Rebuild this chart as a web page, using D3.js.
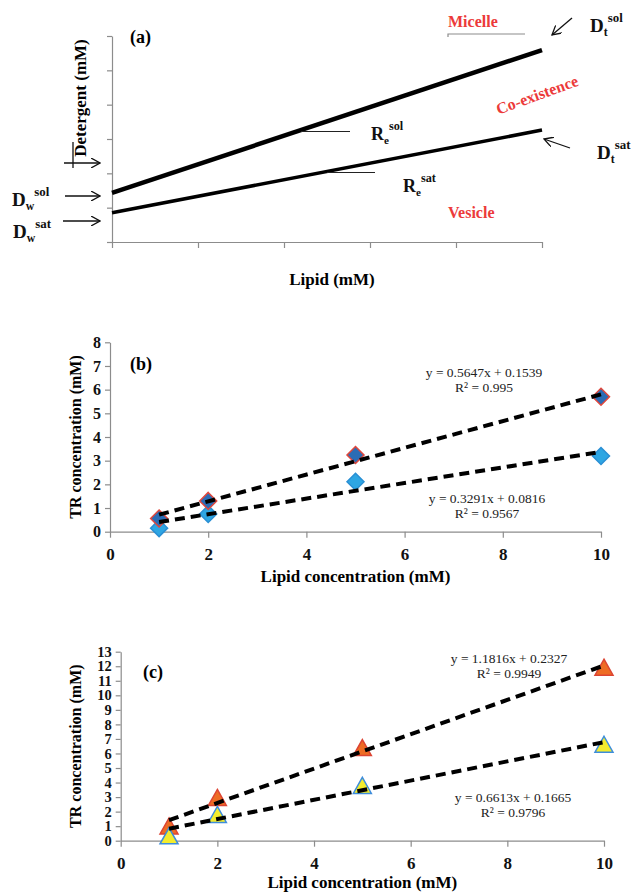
<!DOCTYPE html>
<html>
  <head>
    <meta charset="utf-8">
    <title>Detergent / lipid phase diagram</title>
    <script src="https://d3js.org/d3.v7.min.js"></script>
    <style>
      body { margin: 0; background: #fff; }
      text { font-family: "Liberation Serif", "Times New Roman", serif; }
    </style>
  </head>
  <body>
    <svg id="grafico"></svg>
    <script>
      // panel (a): schematic boundaries
      var faseX = [0, 5];
      var lineaSol = [1.43, 5.59];
      var lineaSat = [0.85, 3.26];

      // panel (b): diamonds
      var lipidoB = [1, 2, 5, 10];
      var serieB1 = [0.56, 1.3, 3.24, 5.7];
      var serieB2 = [0.15, 0.75, 2.11, 3.2];
      var ajusteB1 = {m: 0.5647, b: 0.1539, eq: "y = 0.5647x + 0.1539", r2: "R² = 0.995"};
      var ajusteB2 = {m: 0.3291, b: 0.0816, eq: "y = 0.3291x + 0.0816", r2: "R² = 0.9567"};

      // panel (c): triangles
      var lipidoC = [1, 2, 5, 10];
      var serieC1 = [0.98, 2.94, 6.37, 11.9];
      var serieC2 = [0.3, 1.77, 3.77, 6.6];
      var ajusteC1 = {m: 1.1816, b: 0.2327, eq: "y = 1.1816x + 0.2327", r2: "R² = 0.9949"};
      var ajusteC2 = {m: 0.6613, b: 0.1665, eq: "y = 0.6613x + 0.1665", r2: "R² = 0.9796"};

      var ticksX = [0, 2, 4, 6, 8, 10];
      var ticksYB = d3.range(0, 9);
      var ticksYC = d3.range(0, 14);

      var gris = "#8c8c8c";
      var rojo = "#ec3a3a";

      var svg = d3.select("#grafico").attr("width", 633).attr("height", 893);

      svg.append("defs").append("marker")
        .attr("id", "flecha")
        .attr("viewBox", "0 0 10 10")
        .attr("refX", 9).attr("refY", 5)
        .attr("markerWidth", 10).attr("markerHeight", 10)
        .attr("markerUnits", "userSpaceOnUse")
        .attr("orient", "auto")
        .append("path")
        .attr("d", "M0,0 L9,5 L0,10")
        .attr("fill", "none")
        .attr("stroke", "#111")
        .attr("stroke-width", 1.3);

      function estiloEje(g) {
        g.select(".domain").attr("stroke", gris).attr("stroke-width", 1.2);
        g.selectAll(".tick line").attr("stroke", gris).attr("stroke-width", 1.2);
        g.selectAll(".tick text")
          .attr("font-family", "Liberation Serif, serif")
          .attr("font-weight", "bold")
          .attr("font-size", 16)
          .attr("fill", "#111");
      }

      // texto con subindice y superindice
      function etiqueta(x, y, base, sub, sup, tam) {
        var t = svg.append("text").attr("x", x).attr("y", y)
          .attr("font-weight", "bold").attr("font-size", tam).attr("fill", "#111");
        t.append("tspan").text(base);
        t.append("tspan").attr("font-size", tam * 0.62).attr("dy", 4).text(sub);
        t.append("tspan").attr("font-size", tam * 0.68).attr("dy", -14).text(sup);
      }

      function flecha(x1, y1, x2, y2) {
        svg.append("line")
          .attr("x1", x1).attr("y1", y1).attr("x2", x2).attr("y2", y2)
          .attr("stroke", "#111").attr("stroke-width", 1.3)
          .attr("marker-end", "url(#flecha)");
      }

      // ---------- panel (a) ----------
      var xA = d3.scaleLinear().domain([0, 5]).range([112, 542]);
      var yA = d3.scaleLinear().domain([0, 6]).range([242, 36]);

      svg.append("g")
        .attr("transform", "translate(0," + yA(0) + ")")
        .call(d3.axisBottom(xA).ticks(5).tickSize(6).tickSizeOuter(0).tickFormat(""))
        .call(estiloEje);
      svg.append("g")
        .attr("transform", "translate(" + xA(0) + ",0)")
        .call(d3.axisLeft(yA).ticks(6).tickSize(5).tickSizeOuter(0).tickFormat(""))
        .call(estiloEje);

      var lineaA = d3.line().x(function(d) { return xA(d[0]); }).y(function(d) { return yA(d[1]); });
      svg.append("path").datum(d3.zip(faseX, lineaSol))
        .attr("d", lineaA).attr("fill", "none").attr("stroke", "#000").attr("stroke-width", 4.5);
      svg.append("path").datum(d3.zip(faseX, lineaSat))
        .attr("d", lineaA).attr("fill", "none").attr("stroke", "#000").attr("stroke-width", 3.5);

      svg.append("text").attr("x", 130).attr("y", 43)
        .attr("font-weight", "bold").attr("font-size", 18).text("(a)");

      svg.append("text")
        .attr("transform", "translate(86,98) rotate(-90)")
        .attr("text-anchor", "middle")
        .attr("font-weight", "bold").attr("font-size", 17)
        .text("Detergent (mM)");

      svg.append("text").attr("x", 332).attr("y", 285)
        .attr("text-anchor", "middle")
        .attr("font-weight", "bold").attr("font-size", 17)
        .text("Lipid (mM)");

      // flechas del eje y
      svg.append("line").attr("x1", 73).attr("y1", 142).attr("x2", 73).attr("y2", 168)
        .attr("stroke", "#111").attr("stroke-width", 1.3);
      flecha(64, 163, 100, 163);
      flecha(65, 196, 100, 196);
      flecha(63, 221, 100, 221);

      etiqueta(12, 206, "D", "w", "sol", 19);
      etiqueta(13, 238, "D", "w", "sat", 19);

      // regiones
      svg.append("text").attr("x", 448).attr("y", 27)
        .attr("font-weight", "bold").attr("font-size", 16).attr("fill", rojo).text("Micelle");
      svg.append("path").attr("d", "M448,37 L448,34 L525,34")
        .attr("fill", "none").attr("stroke", gris).attr("stroke-width", 1.2);

      svg.append("text")
        .attr("transform", "translate(539,100) rotate(-20)")
        .attr("text-anchor", "middle")
        .attr("font-weight", "bold").attr("font-size", 16).attr("fill", rojo)
        .text("Co-existence");

      svg.append("text").attr("x", 448).attr("y", 218)
        .attr("font-weight", "bold").attr("font-size", 16).attr("fill", rojo).text("Vesicle");

      // Re
      svg.append("line").attr("x1", 301).attr("y1", 131.5).attr("x2", 350).attr("y2", 131.5)
        .attr("stroke", "#222").attr("stroke-width", 1);
      etiqueta(371, 140, "R", "e", "sol", 18);
      svg.append("line").attr("x1", 327).attr("y1", 172.5).attr("x2", 375).attr("y2", 172.5)
        .attr("stroke", "#222").attr("stroke-width", 1);
      etiqueta(403, 192, "R", "e", "sat", 18);

      // Dt
      flecha(572, 18, 552, 35);
      etiqueta(590, 32, "D", "t", "sol", 19);
      flecha(570, 148, 544, 139);
      etiqueta(597, 159, "D", "t", "sat", 19);

      // ---------- panel con datos ----------
      function panel(cfg) {
        var x = d3.scaleLinear().domain([0, 10]).range(cfg.rx);
        var y = d3.scaleLinear().domain([0, cfg.ymax]).range(cfg.ry);

        svg.append("g")
          .attr("transform", "translate(0," + y(0) + ")")
          .call(d3.axisBottom(x).tickValues(ticksX).tickSize(6).tickSizeOuter(0).tickPadding(10))
          .call(estiloEje)
          .selectAll(".tick text").attr("font-size", 17);
        svg.append("g")
          .attr("transform", "translate(" + x(0) + ",0)")
          .call(d3.axisLeft(y).tickValues(cfg.ticksY).tickSize(5).tickSizeOuter(0).tickPadding(4))
          .call(estiloEje)
          .selectAll(".tick text").attr("font-size", cfg.tamY);

        svg.append("text").attr("x", cfg.etq[0]).attr("y", cfg.etq[1])
          .attr("font-weight", "bold").attr("font-size", 18).text(cfg.letra);

        svg.append("text")
          .attr("transform", "translate(81," + ((cfg.ry[0] + cfg.ry[1]) / 2) + ") rotate(-90)")
          .attr("text-anchor", "middle")
          .attr("font-weight", "bold").attr("font-size", 16)
          .text("TR concentration (mM)");
        svg.append("text")
          .attr("x", (cfg.rx[0] + cfg.rx[1]) / 2).attr("y", cfg.ry[0] + cfg.titY)
          .attr("text-anchor", "middle")
          .attr("font-weight", "bold").attr("font-size", 17)
          .text("Lipid concentration (mM)");

        cfg.series.forEach(function(s) {
          svg.append("g").selectAll("path")
            .data(d3.zip(cfg.lx, s.valores))
            .enter().append("path")
            .attr("d", s.forma)
            .attr("transform", function(d) { return "translate(" + x(d[0]) + "," + y(d[1]) + ")"; })
            .attr("fill", s.relleno).attr("stroke", s.borde).attr("stroke-width", 1.5);
        });

        cfg.ajustes.forEach(function(a) {
          var ext = d3.extent(cfg.lx);
          svg.append("line")
            .attr("x1", x(ext[0])).attr("y1", y(a.m * ext[0] + a.b))
            .attr("x2", x(ext[1])).attr("y2", y(a.m * ext[1] + a.b))
            .attr("stroke", "#000").attr("stroke-width", 4)
            .attr("stroke-dasharray", "10,6");
          var t = svg.append("text").attr("text-anchor", "middle")
            .attr("font-size", 13.5).attr("fill", "#222");
          t.append("tspan").attr("x", a.pos[0]).attr("y", a.pos[1]).text(a.eq);
          t.append("tspan").attr("x", a.pos[0]).attr("y", a.pos[1] + 15).text(a.r2);
        });
      }

      var diamante = "M0,-8.5 L8.5,0 L0,8.5 L-8.5,0 Z";
      var triangulo = "M0,-8.5 L9,7.5 L-9,7.5 Z";

      ajusteB1.pos = [484, 377];
      ajusteB2.pos = [487, 503];
      panel({
        rx: [110, 601], ry: [531.7, 342.3], ymax: 8, ticksY: ticksYB, tamY: 16, titY: 50,
        letra: "(b)", etq: [130, 370], lx: lipidoB,
        series: [
          {valores: serieB2, forma: diamante, relleno: "#2ea6e3", borde: "#2a8fd4"},
          {valores: serieB1, forma: diamante, relleno: "#2b6cb5", borde: "#e0473c"}
        ],
        ajustes: [ajusteB1, ajusteB2]
      });

      ajusteC1.pos = [509, 663];
      ajusteC2.pos = [513, 802];
      panel({
        rx: [120.7, 604], ry: [840.7, 651.7], ymax: 13, ticksY: ticksYC, tamY: 14.5, titY: 47,
        letra: "(c)", etq: [143, 678], lx: lipidoC,
        series: [
          {valores: serieC1, forma: triangulo, relleno: "#ee6c24", borde: "#dc4433"},
          {valores: serieC2, forma: triangulo, relleno: "#f3ec2e", borde: "#3d8ddb"}
        ],
        ajustes: [ajusteC1, ajusteC2]
      });
    </script>
  </body>
</html>
